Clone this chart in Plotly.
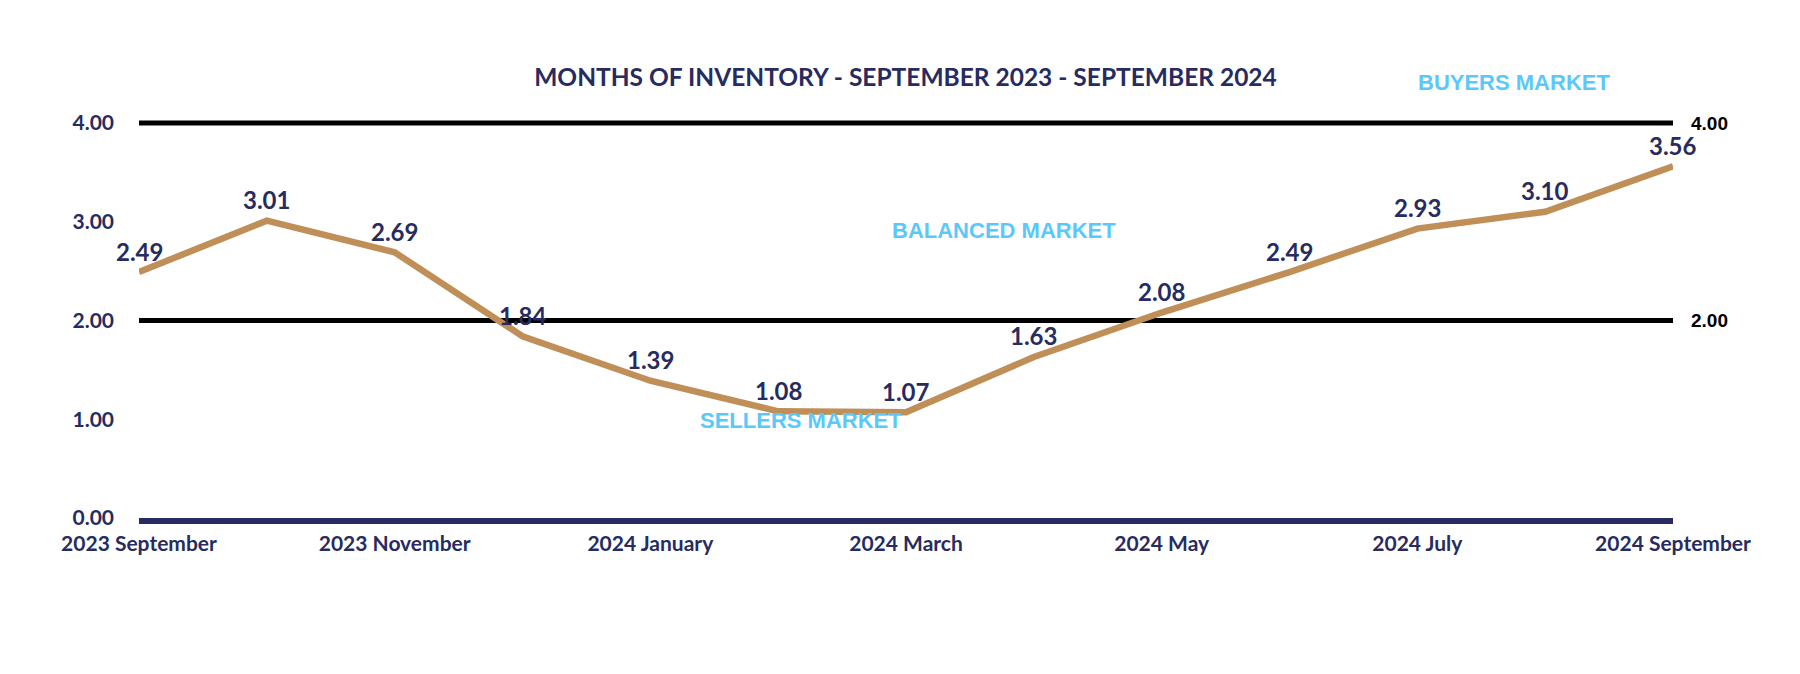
import plotly.graph_objects as go

months = ["2023 September", "2023 October", "2023 November", "2023 December",
          "2024 January", "2024 February", "2024 March", "2024 April",
          "2024 May", "2024 June", "2024 July", "2024 August", "2024 September"]
inventory = [2.49, 3.01, 2.69, 1.84, 1.39, 1.08, 1.07, 1.63, 2.08, 2.49, 2.93, 3.10, 3.56]
tick_months = months[::2]
y_ticks = [0, 1, 2, 3, 4]
threshold_levels = [2, 4]
market_labels = ["BUYERS MARKET", "BALANCED MARKET", "SELLERS MARKET"]
market_label_pos_x = [10.76, 6.77, 5.18]
market_label_pos_y = [4.405, 2.906, 0.982]

NAVY = "#272B5F"
TAN = "#BF8F57"
SKY = "#5AC8FA"
Y_MAX = 4.1

fig = go.Figure()
fig.add_trace(go.Scatter(
    x=months, y=inventory, mode="lines",
    line=dict(color=TAN, width=6.5),
    showlegend=False, hoverinfo="skip",
))
# invisible trace for right axis
fig.add_trace(go.Scatter(x=[months[0]], y=[None], yaxis="y2", showlegend=False, hoverinfo="skip"))

for m, v in zip(months, inventory):
    fig.add_annotation(x=m, y=v, xref="x", yref="y", text=f"{v:.2f}", showarrow=False,
                       yshift=21, xanchor="center", yanchor="middle",
                       font=dict(family="Lato", size=24, color=NAVY, weight="bold"))

for lvl in threshold_levels:
    fig.add_shape(type="line", xref="paper", x0=0, x1=1, yref="y", y0=lvl, y1=lvl,
                  line=dict(color="black", width=5), layer="below")

for txt, ax, ay in zip(market_labels, market_label_pos_x, market_label_pos_y):
    fig.add_annotation(x=ax, y=ay / Y_MAX, xref="x", yref="paper", text=txt, showarrow=False,
                       font=dict(family="Liberation Sans", size=22, color=SKY, weight="bold"),
                       xanchor="center", yanchor="middle")

W, H = 1792, 666
fig.update_layout(
    width=W, height=H,
    paper_bgcolor="white", plot_bgcolor="white",
    margin=dict(l=131, r=127, t=105, b=156),
    title=dict(text="MONTHS OF INVENTORY - SEPTEMBER 2023 - SEPTEMBER 2024",
               x=897.5 / W, xanchor="center", xref="container",
               y=1 - 69 / H, yanchor="middle", yref="container",
               font=dict(family="Lato", size=24.5, color=NAVY, weight="bold")),
    xaxis=dict(type="category", range=[0, 12], tickvals=tick_months, ticktext=tick_months,
               showgrid=False, zeroline=False, showline=True, linecolor=NAVY, linewidth=6,
               ticks="", ticklabelstandoff=2,
               tickfont=dict(family="Lato", size=21, color=NAVY, weight="bold")),
    yaxis=dict(range=[0, Y_MAX], tickvals=y_ticks, tickformat=".2f", showgrid=False,
               zeroline=False, showline=False, ticks="", ticklabelstandoff=24,
               tickfont=dict(family="Lato", size=21, color=NAVY, weight="bold")),
    yaxis2=dict(range=[0, Y_MAX], overlaying="y", side="right", tickvals=threshold_levels,
                tickformat=".2f", showgrid=False, zeroline=False, showline=False, ticks="",
                ticklabelstandoff=17,
                tickfont=dict(family="Liberation Sans", size=19, color="black", weight="bold")),
)

fig.write_html("out.html")
